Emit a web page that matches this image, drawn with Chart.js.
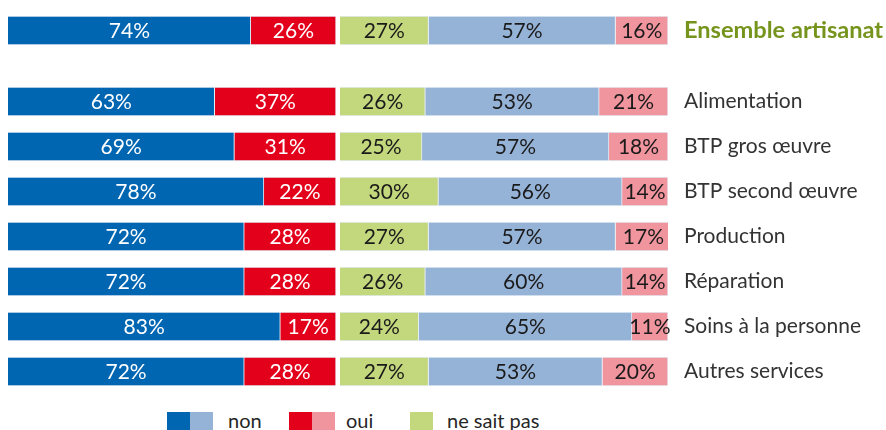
<!DOCTYPE html>
<html>
<head>
<meta charset="utf-8">
<script src="https://cdn.jsdelivr.net/npm/chart.js@4"></script>
<style>
  body { margin: 0; background: #fff; font-family: Lato, sans-serif; }
  #wrap { position: relative; width: 886px; height: 430px; overflow: hidden; }
  #top { position: absolute; left: 0; top: 8px; width: 886px; height: 45px; }
  #main { position: absolute; left: 0; top: 79px; width: 886px; height: 315px; }
  .legend { position: absolute; font-size: 20px; color: #262626; }
  .sw { position: absolute; top: 412px; width: 23px; height: 20px; }
</style>
</head>
<body>
<div id="wrap">
  <div id="top"><canvas id="chartTop"></canvas></div>
  <div id="main"><canvas id="chartMain"></canvas></div>
  <div class="sw" style="left:167px;background:#0066b2"></div>
  <div class="sw" style="left:190px;background:#95b3d7"></div>
  <div class="legend" style="left:228px;top:408px">non</div>
  <div class="sw" style="left:289px;background:#e3001b"></div>
  <div class="sw" style="left:312px;background:#f0949e"></div>
  <div class="legend" style="left:346px;top:408px">oui</div>
  <div class="sw" style="left:410px;background:#c3d77d"></div>
  <div class="legend" style="left:447px;top:408px">ne sait pas</div>
</div>
<script>
// totals row
const totalLabel = ['Ensemble artisanat'];
const totalNon = [74];
const totalOui = [26];
const totalNsp = [27];
const totalNon2 = [57];
const totalOui2 = [16];

// by trade
const trades = ['Alimentation', 'BTP gros œuvre', 'BTP second œuvre', 'Production', 'Réparation', 'Soins à la personne', 'Autres services'];
const non = [63, 69, 78, 72, 72, 83, 72];
const oui = [37, 31, 22, 28, 28, 17, 28];
const nsp = [26, 25, 30, 27, 26, 24, 27];
const non2 = [53, 57, 56, 57, 60, 65, 53];
const oui2 = [21, 18, 14, 17, 14, 11, 20];

const C_NON = '#0066b2', C_OUI = '#e3001b', C_NSP = '#c3d77d', C_NON2 = '#95b3d7', C_OUI2 = '#f0949e';

// small blank slice between the two groups
const gap = n => Array(n).fill(1.2);

const valueLabels = {
  id: 'valueLabels',
  afterDatasetsDraw(chart) {
    const ctx = chart.ctx;
    ctx.save();
    ctx.font = '21px Lato';
    ctx.textAlign = 'center';
    ctx.textBaseline = 'middle';
    chart.data.datasets.forEach((ds, i) => {
      if (ds.isGap) return;
      chart.getDatasetMeta(i).data.forEach((bar, j) => {
        ctx.fillStyle = ds.textColor;
        ctx.fillText(ds.data[j] + '%', (bar.x + bar.base) / 2, bar.y + 1);
      });
    });
    ctx.restore();
  }
};

function makeChart(id, labels, a, b, c, d, e, labelFont, labelColor) {
  const ds = (data, color, textColor) => ({
    data, backgroundColor: color, borderColor: '#e6edf5', borderWidth: 1,
    textColor, barThickness: 29
  });
  const gapSet = { data: gap(labels.length), backgroundColor: 'rgba(0,0,0,0)', borderWidth: 0, isGap: true, barThickness: 29 };
  return new Chart(document.getElementById(id), {
    type: 'bar',
    data: {
      labels,
      datasets: [
        ds(a, C_NON, '#ffffff'),
        ds(b, C_OUI, '#ffffff'),
        gapSet,
        ds(c, C_NSP, '#1a1a1a'),
        ds(d, C_NON2, '#1a1a1a'),
        ds(e, C_OUI2, '#1a1a1a')
      ]
    },
    options: {
      indexAxis: 'y',
      responsive: true,
      maintainAspectRatio: false,
      animation: false,
      layout: { padding: { left: 8, right: 0, top: 0, bottom: 0 } },
      plugins: { legend: { display: false }, tooltip: { enabled: false } },
      scales: {
        x: { stacked: true, min: 0, max: 201.2, display: false },
        y: {
          stacked: true,
          position: 'right',
          grid: { display: false, drawTicks: false },
          border: { display: false },
          ticks: { padding: 16, font: labelFont, color: labelColor },
          afterFit(scale) {
            scale.width = 218;
            scale.paddingTop = 0;
            scale.paddingBottom = 0;
          }
        }
      }
    },
    plugins: [valueLabels]
  });
}

makeChart('chartTop', totalLabel, totalNon, totalOui, totalNsp, totalNon2, totalOui2,
  { family: 'Lato', size: 23.6, weight: 'bold' }, '#76941c');
makeChart('chartMain', trades, non, oui, nsp, non2, oui2,
  { family: 'Lato', size: 21 }, '#333333');
</script>
</body>
</html>
